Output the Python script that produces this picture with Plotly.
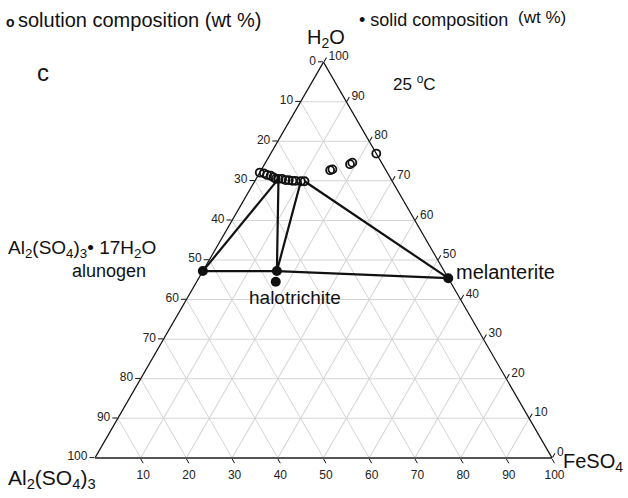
import plotly.graph_objects as go

# ---------------- data (wt %) ----------------
# solution compositions (open circles)
sol_h2o = [72.1, 71.9, 71.5, 71.3, 70.9, 70.5, 70.5, 70.5, 70.2, 70.2, 70.0, 70.0, 69.9, 69.9, 72.7, 72.9, 74.2, 74.6, 76.9]
sol_al  = [27.9, 27.1, 26.6, 25.9, 25.5, 25.2, 24.6, 23.8, 23.2, 22.5, 21.8, 21.1, 20.0, 19.2, 12.2, 11.6, 7.1, 6.4, 0.0]
sol_fe  = [0.0, 1.0, 1.9, 2.8, 3.6, 4.3, 4.9, 5.7, 6.6, 7.3, 8.2, 8.9, 10.1, 10.9, 15.1, 15.5, 18.7, 19.0, 23.1]

# solid compositions (filled dots)
solid_names = ["alunogen", "halotrichite (exp)", "halotrichite", "melanterite"]
solid_h2o = [47.2, 47.2, 44.5, 45.4]
solid_al  = [52.8, 36.6, 38.2, 0.0]
solid_fe  = [0.0, 16.2, 17.3, 54.6]

# tie lines: (solid index, solution index)
tie_lines = [(0, 6), (1, 6), (1, 12), (3, 13)]
# solid-solid join: alunogen - halotrichite(exp) - melanterite
join_idx = [0, 1, 3]

tick_vals = [0, 10, 20, 30, 40, 50, 60, 70, 80, 90, 100]

FONT = "Liberation Sans, Arial, Helvetica, sans-serif"

fig = go.Figure()

for s, l in tie_lines:
    fig.add_trace(go.Scatterternary(
        a=[solid_h2o[s], sol_h2o[l]], b=[solid_al[s], sol_al[l]], c=[solid_fe[s], sol_fe[l]],
        mode="lines", line=dict(color="#111111", width=2.2), showlegend=False, hoverinfo="skip",
        cliponaxis=False))

fig.add_trace(go.Scatterternary(
    a=[solid_h2o[i] for i in join_idx], b=[solid_al[i] for i in join_idx], c=[solid_fe[i] for i in join_idx],
    mode="lines", line=dict(color="#111111", width=2.2), showlegend=False, hoverinfo="skip",
    cliponaxis=False))

fig.add_trace(go.Scatterternary(
    a=sol_h2o, b=sol_al, c=sol_fe, mode="markers",
    marker=dict(symbol="circle-open", size=8, color="#111111", line=dict(width=1.8, color="#111111")),
    showlegend=False, name="solution composition", cliponaxis=False))

fig.add_trace(go.Scatterternary(
    a=solid_h2o, b=solid_al, c=solid_fe, mode="markers", text=solid_names,
    marker=dict(symbol="circle", size=10, color="#111111"),
    showlegend=False, name="solid composition", cliponaxis=False))

axis_common = dict(
    min=0, showgrid=True, gridcolor="#d4d4d4", gridwidth=1,
    ticks="outside", ticklen=5, tickcolor="#111111",
    tickfont=dict(family=FONT, size=12, color="#222222"),
    title=dict(text=""), layer="below traces",
)

fig.update_layout(
    width=628, height=498,
    margin=dict(l=95, r=76, t=62, b=40),
    paper_bgcolor="white",
    font=dict(family=FONT, color="#111111"),
    ternary=dict(
        sum=100,
        bgcolor="white",
        domain=dict(x=[0, 1], y=[0, 1]),
        aaxis=dict(axis_common, tickvals=tick_vals, ticktext=[str(100 - v) for v in tick_vals],
                   linecolor="#111111", linewidth=1.2),
        baxis=dict(axis_common, tickvals=tick_vals[:-1], ticktext=[str(100 - v) for v in tick_vals[:-1]],
                   linecolor="#555555", linewidth=2),
        caxis=dict(axis_common, tickvals=tick_vals, ticktext=[str(100 - v) for v in tick_vals],
                   linecolor="#111111", linewidth=1.2),
    ),
)

L, R, B, H = 95, 552, 458, 396


def ann(text, px, py, size, xanchor="left", yanchor="middle"):
    fig.add_annotation(text=text, x=(px - L) / (R - L), y=(B - py) / H,
                       xref="paper", yref="paper", showarrow=False,
                       xanchor=xanchor, yanchor=yanchor,
                       font=dict(family=FONT, size=size, color="#111111"))


ann("<b>o</b>", 10, 22, 14, xanchor="center")
ann("solution composition (wt %)", 16, 20, 20)
ann("• solid composition", 357, 20, 18)
ann("(wt %)", 516, 18, 17)
ann("c", 35, 72, 24)
ann("H<sub>2</sub>O", 326, 39, 20, xanchor="center")
ann("25 <sup>o</sup>C", 391, 83, 17)
ann("Al<sub>2</sub>(SO<sub>4</sub>)<sub>3</sub>• 17H<sub>2</sub>O", 6, 249, 19)
ann("alunogen", 70, 271, 18)
ann("halotrichite", 247, 297, 19)
ann("melanterite", 454, 272, 20)
ann("Al<sub>2</sub>(SO<sub>4</sub>)<sub>3</sub>", 6, 479, 21)
ann("FeSO<sub>4</sub>", 561, 462, 20)

fig.write_html("out.html")
